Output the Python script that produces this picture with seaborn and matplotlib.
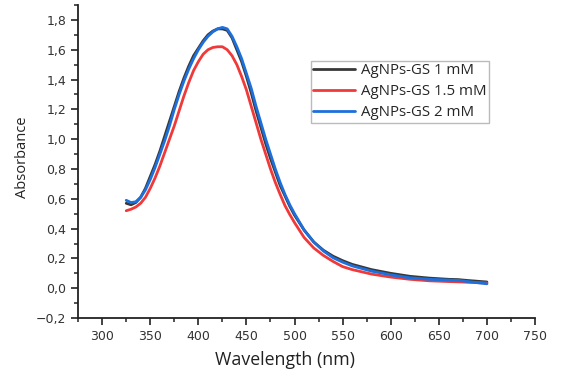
import numpy as np
import pandas as pd
import seaborn as sns
import matplotlib.pyplot as plt
from matplotlib.ticker import MultipleLocator, FuncFormatter

# wavelengths (nm)
wavelength = list(range(325, 501, 5)) + [510, 520, 530, 540, 550, 560,
                                         580, 600, 620, 640, 660, 670, 680, 700]

abs_1mm = [0.57, 0.56, 0.575, 0.61, 0.67, 0.75, 0.83, 0.92, 1.02, 1.12, 1.22, 1.32,
           1.41, 1.49, 1.56, 1.61, 1.66, 1.70, 1.725, 1.74, 1.74, 1.73, 1.68, 1.60,
           1.52, 1.42, 1.31, 1.19, 1.08, 0.97, 0.87, 0.78, 0.69, 0.62, 0.55, 0.49,
           0.39, 0.31, 0.255, 0.215, 0.185, 0.16,
           0.125, 0.10, 0.08, 0.068, 0.06, 0.058, 0.052, 0.042]

abs_15mm = [0.52, 0.53, 0.545, 0.57, 0.61, 0.67, 0.74, 0.82, 0.91, 1.00, 1.09, 1.19,
            1.29, 1.38, 1.46, 1.52, 1.57, 1.60, 1.615, 1.62, 1.62, 1.60, 1.56, 1.50,
            1.42, 1.33, 1.22, 1.11, 1.00, 0.90, 0.80, 0.71, 0.63, 0.555, 0.495, 0.44,
            0.34, 0.27, 0.22, 0.18, 0.145, 0.125,
            0.095, 0.075, 0.06, 0.05, 0.045, 0.043, 0.04, 0.035]

abs_2mm = [0.59, 0.575, 0.58, 0.61, 0.66, 0.73, 0.81, 0.90, 0.99, 1.09, 1.20, 1.30,
           1.39, 1.47, 1.54, 1.60, 1.65, 1.69, 1.72, 1.74, 1.75, 1.74, 1.69, 1.62,
           1.54, 1.44, 1.34, 1.22, 1.11, 1.00, 0.90, 0.80, 0.71, 0.63, 0.56, 0.50,
           0.39, 0.31, 0.25, 0.205, 0.175, 0.15,
           0.115, 0.09, 0.07, 0.06, 0.055, 0.053, 0.045, 0.03]

labels = ["AgNPs-GS 1 mM", "AgNPs-GS 1.5 mM", "AgNPs-GS 2 mM"]
colors = ["#383838", "#f03a3a", "#1d6fdc"]

df = pd.concat([
    pd.DataFrame({"wavelength": wavelength, "absorbance": vals, "sample": lab})
    for vals, lab in zip([abs_1mm, abs_15mm, abs_2mm], labels)
])

sns.set_style("ticks")
plt.rcParams["font.family"] = ["DejaVu Sans"]

fig = plt.figure(figsize=(5.62, 3.86), dpi=100)
ax = fig.add_axes([0.139, 0.176, 0.813, 0.811])

sns.lineplot(data=df, x="wavelength", y="absorbance", hue="sample",
             palette=dict(zip(labels, colors)), hue_order=labels,
             linewidth=2, ax=ax, sort=False)

ax.set_xlim(275, 750)
ax.set_ylim(-0.2, 1.9)
ax.xaxis.set_minor_locator(MultipleLocator(25))
ax.yaxis.set_major_locator(MultipleLocator(0.2))
ax.yaxis.set_minor_locator(MultipleLocator(0.1))
ax.set_xticks(np.arange(300, 751, 50))
ax.yaxis.set_major_formatter(FuncFormatter(lambda v, p: f"{v:.1f}".replace(".", ",").replace("-", "\u2212")))
ax.tick_params(which="major", length=5, width=1.2, labelsize=9, colors="#222", labelcolor="#333")
ax.tick_params(which="minor", length=3, width=1.1, colors="#222")
for s in ["left", "bottom"]:
    ax.spines[s].set_linewidth(1.3)
    ax.spines[s].set_color("#222")
sns.despine(ax=ax)

ax.set_xlabel("Wavelength (nm)", family="Open Sans", fontsize=12.8, color="#222")
ax.set_ylabel("Absorbance", family="Open Sans", fontsize=10.5, color="#222")
ax.xaxis.set_label_coords(0.453, -0.135)
ax.yaxis.set_label_coords(-0.1225, 0.514)
ax.xaxis.label.set_va("center")
ax.yaxis.label.set_va("center")

leg = ax.legend(loc="upper left", bbox_to_anchor=(0.51, 0.821), frameon=True,
                fancybox=False, prop={"family": "Open Sans", "size": 10.8},
                handlelength=2.8, handletextpad=0.35, labelspacing=0.4,
                borderpad=0.15, borderaxespad=0)
leg.get_frame().set_edgecolor("#aaaaaa")
leg.get_frame().set_linewidth(1.0)
for h in leg.get_lines():
    h.set_linewidth(2)

fig.savefig("out.png", dpi=100)
